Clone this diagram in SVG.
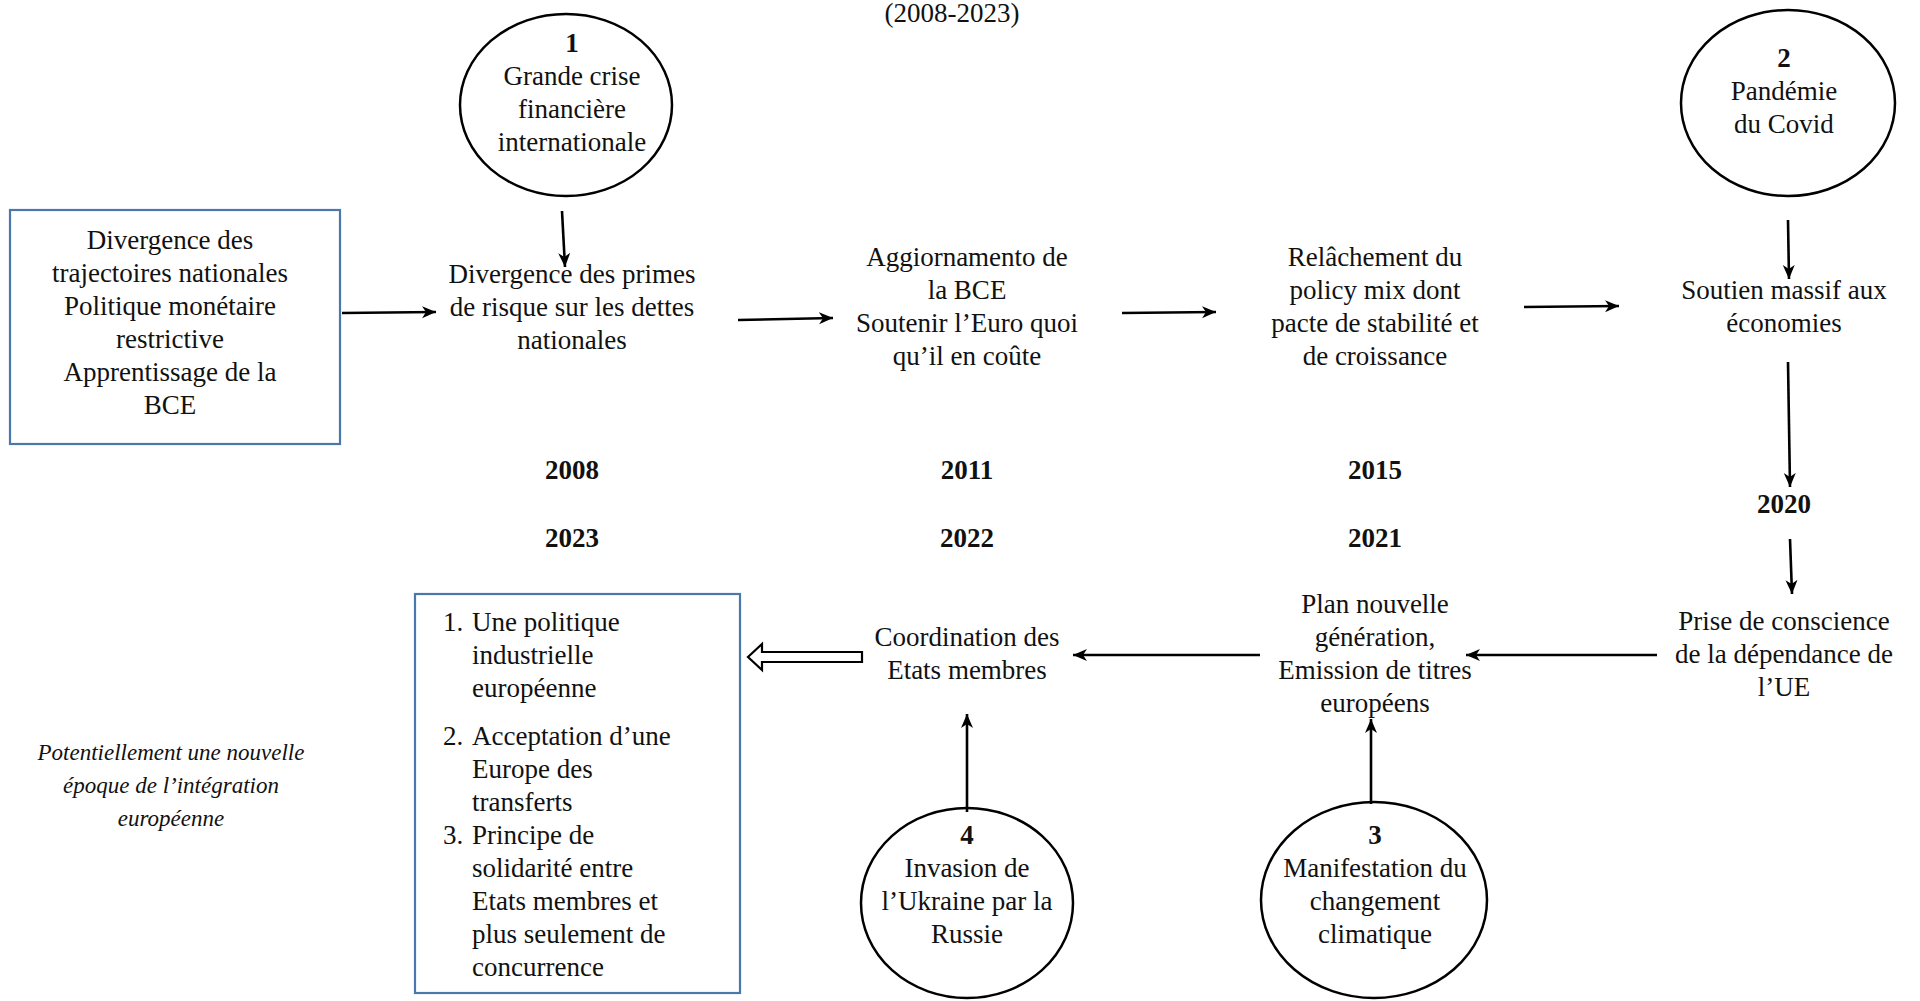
<svg xmlns="http://www.w3.org/2000/svg" width="1920" height="1001" viewBox="0 0 1920 1001">
<defs>
<style>
text{font-family:"Liberation Serif","Times New Roman",serif;font-size:27px;fill:#111}
.c{text-anchor:middle}
.b{font-weight:bold}
.i{font-style:italic;font-size:23px}
.ell{fill:#fff;stroke:#000;stroke-width:2.5}
.box{fill:#fff;stroke:#4a78ac;stroke-width:2.2}
.con{stroke:#000;stroke-width:2.6;fill:none;marker-end:url(#ah)}
</style>
<marker id="ah" markerUnits="userSpaceOnUse" markerWidth="16" markerHeight="14" refX="14" refY="6" orient="auto">
<path d="M0,0 L14,6 L0,12 L4,6 z" fill="#000"/>
</marker>
</defs>
<rect width="1920" height="1001" fill="#fff"/>

<text class="c" x="952" y="22">(2008-2023)</text>

<g id="n-crise">
<ellipse class="ell" cx="566" cy="105" rx="106" ry="91"/>
<text class="c b" x="572" y="52">1</text>
<text class="c" x="572" y="85">Grande crise</text>
<text class="c" x="572" y="118">financière</text>
<text class="c" x="572" y="151">internationale</text>
</g>

<g id="n-divergence-trajectoires">
<rect class="box" x="10" y="210" width="330" height="234"/>
<text class="c" x="170" y="249">Divergence des</text>
<text class="c" x="170" y="282">trajectoires nationales</text>
<text class="c" x="170" y="315">Politique monétaire</text>
<text class="c" x="170" y="348">restrictive</text>
<text class="c" x="170" y="381">Apprentissage de la</text>
<text class="c" x="170" y="414">BCE</text>
</g>

<g id="n-divergence-primes">
<text class="c" x="572" y="283">Divergence des primes</text>
<text class="c" x="572" y="316">de risque sur les dettes</text>
<text class="c" x="572" y="349">nationales</text>
</g>

<g id="n-aggiornamento">
<text class="c" x="967" y="266">Aggiornamento de</text>
<text class="c" x="967" y="299">la BCE</text>
<text class="c" x="967" y="332">Soutenir l’Euro quoi</text>
<text class="c" x="967" y="365">qu’il en coûte</text>
</g>

<g id="n-relachement">
<text class="c" x="1375" y="266">Relâchement du</text>
<text class="c" x="1375" y="299">policy mix dont</text>
<text class="c" x="1375" y="332">pacte de stabilité et</text>
<text class="c" x="1375" y="365">de croissance</text>
</g>

<g id="n-covid">
<ellipse class="ell" cx="1788" cy="103" rx="107" ry="93"/>
<text class="c b" x="1784" y="67">2</text>
<text class="c" x="1784" y="100">Pandémie</text>
<text class="c" x="1784" y="133">du Covid</text>
</g>

<g id="n-soutien">
<text class="c" x="1784" y="299">Soutien massif aux</text>
<text class="c" x="1784" y="332">économies</text>
</g>

<g id="years">
<text class="c b" x="572" y="479">2008</text>
<text class="c b" x="967" y="479">2011</text>
<text class="c b" x="1375" y="479">2015</text>
<text class="c b" x="1784" y="513">2020</text>
<text class="c b" x="572" y="547">2023</text>
<text class="c b" x="967" y="547">2022</text>
<text class="c b" x="1375" y="547">2021</text>
</g>

<g id="n-prise">
<text class="c" x="1784" y="630">Prise de conscience</text>
<text class="c" x="1784" y="663">de la dépendance de</text>
<text class="c" x="1784" y="696">l’UE</text>
</g>

<g id="n-plan">
<text class="c" x="1375" y="613">Plan nouvelle</text>
<text class="c" x="1375" y="646">génération,</text>
<text class="c" x="1375" y="679">Emission de titres</text>
<text class="c" x="1375" y="712">européens</text>
</g>

<g id="n-coordination">
<text class="c" x="967" y="646">Coordination des</text>
<text class="c" x="967" y="679">Etats membres</text>
</g>

<g id="n-ukraine">
<ellipse class="ell" cx="967" cy="903" rx="106" ry="95"/>
<text class="c b" x="967" y="844">4</text>
<text class="c" x="967" y="877">Invasion de</text>
<text class="c" x="967" y="910">l’Ukraine par la</text>
<text class="c" x="967" y="943">Russie</text>
</g>

<g id="n-climat">
<ellipse class="ell" cx="1374" cy="900" rx="113" ry="98"/>
<text class="c b" x="1375" y="844">3</text>
<text class="c" x="1375" y="877">Manifestation du</text>
<text class="c" x="1375" y="910">changement</text>
<text class="c" x="1375" y="943">climatique</text>
</g>

<g id="n-resultats">
<rect class="box" x="415" y="594" width="325" height="399"/>
<text x="443" y="631">1.</text><text x="472" y="631">Une politique</text>
<text x="472" y="664">industrielle</text>
<text x="472" y="697">européenne</text>
<text x="443" y="745">2.</text><text x="472" y="745">Acceptation d’une</text>
<text x="472" y="778">Europe des</text>
<text x="472" y="811">transferts</text>
<text x="443" y="844">3.</text><text x="472" y="844">Principe de</text>
<text x="472" y="877">solidarité entre</text>
<text x="472" y="910">Etats membres et</text>
<text x="472" y="943">plus seulement de</text>
<text x="472" y="976">concurrence</text>
</g>

<g id="n-potentiellement">
<text class="c i" x="171" y="760">Potentiellement une nouvelle</text>
<text class="c i" x="171" y="793">époque de l’intégration</text>
<text class="c i" x="171" y="826">européenne</text>
</g>

<g id="connectors">
<path class="con" d="M342,313 L436,312"/>
<path class="con" d="M562,211 L565,267"/>
<path class="con" d="M738,320 L833,318"/>
<path class="con" d="M1122,313 L1216,312"/>
<path class="con" d="M1524,307 L1619,306"/>
<path class="con" d="M1788,220 L1789,279"/>
<path class="con" d="M1788,362 L1790,487"/>
<path class="con" d="M1790,539 L1792,594"/>
<path class="con" d="M1657,655 L1466,655"/>
<path class="con" d="M1260,655 L1073,655"/>
<path class="con" d="M967,812 L967,714"/>
<path class="con" d="M1371,804 L1371,719"/>
<polygon points="862,652 762,652 762,644 748,657 762,670 762,662 862,662" fill="#fff" stroke="#000" stroke-width="2.2" stroke-linejoin="miter"/>
</g>
</svg>
